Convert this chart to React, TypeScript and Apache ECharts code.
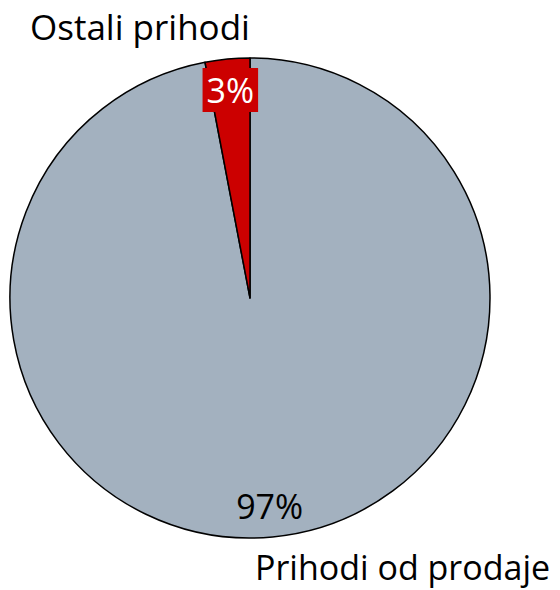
import React, { useEffect, useRef } from "react";
import * as echarts from "echarts";

const categories = ["Prihodi od prodaje", "Ostali prihodi"];
const values = [97, 3];
const colors = ["#A3B1BF", "#CC0000"];

const FONT = "'Open Sans', Lato, sans-serif";

export default function App() {
  const ref = useRef<HTMLDivElement>(null);
  useEffect(() => {
    document.body.style.margin = "0";
    const chart = echarts.init(ref.current!, undefined, { renderer: "svg" });
    const data = categories.map((c, i) => ({ name: c, value: values[i] }));
    chart.setOption({
      animation: false,
      series: [
        {
          type: "pie",
          center: [250, 298],
          radius: 240,
          startAngle: 90,
          clockwise: true,
          silent: true,
          label: { show: false },
          labelLine: { show: false },
          itemStyle: { borderColor: "#000", borderWidth: 1.5 },
          data: data.map((d, i) => ({ ...d, itemStyle: { color: colors[i] } })),
        },
        {
          type: "pie",
          center: [250, 298],
          radius: [172, 240],
          startAngle: 90,
          clockwise: true,
          silent: true,
          labelLine: { show: false },
          itemStyle: { color: "rgba(0,0,0,0)", borderWidth: 0 },
          label: {
            show: true,
            position: "inside",
            formatter: "{c}%",
            fontFamily: FONT,
            fontSize: 34,
          },
          data: data.map((d, i) =>
            i === 1
              ? {
                  ...d,
                  label: {
                    color: "#fff",
                    backgroundColor: colors[1],
                    padding: [6, 4, 4, 4],
                  },
                }
              : { ...d, label: { color: "#000" } }
          ),
        },
      ],
      graphic: [
        {
          type: "text",
          left: 30,
          top: 9,
          style: { text: categories[1], fontFamily: FONT, fontSize: 35, fill: "#000" },
        },
        {
          type: "text",
          left: 255,
          top: 550,
          style: { text: categories[0], fontFamily: FONT, fontSize: 34, fill: "#000" },
        },
      ],
    });
    return () => chart.dispose();
  }, []);
  return <div ref={ref} style={{ width: 560, height: 590 }} />;
}
